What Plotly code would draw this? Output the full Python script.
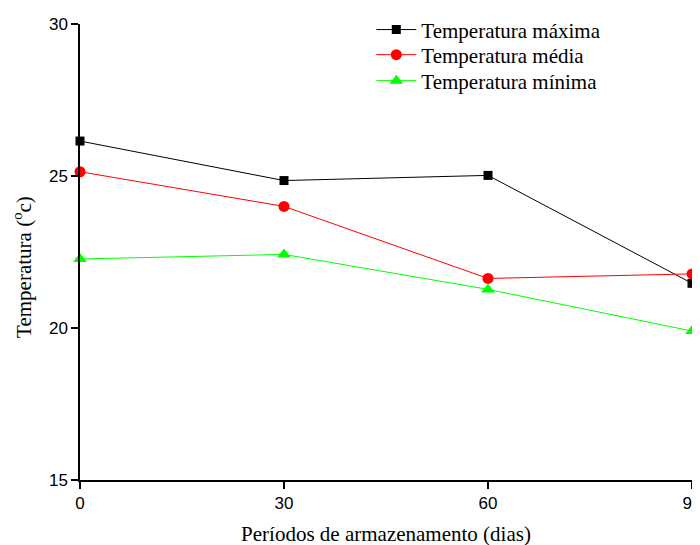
import plotly.graph_objects as go

dias = [0, 30, 60, 90]
temp_max = [26.15, 24.85, 25.02, 21.47]
temp_med = [25.14, 24.0, 21.63, 21.78]
temp_min = [22.27, 22.42, 21.27, 19.9]

x_ticks = [0, 30, 60, 90]
y_ticks = [15, 20, 25, 30]

fig = go.Figure()
fig.add_trace(go.Scatter(x=dias, y=temp_max, mode="lines+markers", name="Temperatura máxima",
                         legend="legend",
                         line=dict(color="black", width=1),
                         marker=dict(symbol="square", size=9, color="black")))
fig.add_trace(go.Scatter(x=dias, y=temp_med, mode="lines+markers", name="Temperatura média",
                         legend="legend2",
                         line=dict(color="#ff0000", width=1),
                         marker=dict(symbol="circle", size=11, color="#ff0000")))
fig.add_trace(go.Scatter(x=dias, y=temp_min, mode="lines+markers", name="Temperatura mínima",
                         legend="legend3",
                         line=dict(color="#00ff00", width=1),
                         marker=dict(symbol="triangle-up", size=12, color="#00ff00")))

fig.update_traces(cliponaxis=False)

leg_common = dict(xanchor="left", yanchor="middle",
                  font=dict(family="Liberation Serif", size=21, color="black"),
                  bgcolor="rgba(0,0,0,0)", itemwidth=40, borderwidth=0)

fig.update_layout(
    width=700, height=545,
    margin=dict(l=72, r=16, t=16, b=73, autoexpand=False),
    plot_bgcolor="white", paper_bgcolor="white",
    showlegend=True,
    legend=dict(x=0.476, y=0.987, **leg_common),
    legend2=dict(x=0.476, y=0.932, **leg_common),
    legend3=dict(x=0.476, y=0.875, **leg_common),
    xaxis=dict(range=[0, 90], tickvals=x_ticks, showline=True, linecolor="black", linewidth=1.5,
               ticks="outside", ticklen=7, tickwidth=1.5, tickcolor="black",
               showgrid=False, zeroline=False,
               tickfont=dict(family="Liberation Sans", size=17, color="black"),
               title=dict(text="Períodos de armazenamento (dias)",
                          font=dict(family="Liberation Serif", size=21, color="black"), standoff=14)),
    yaxis=dict(range=[15, 30], tickvals=y_ticks, showline=True, linecolor="black", linewidth=1.5,
               ticks="outside", ticklen=7, tickwidth=1.5, tickcolor="black",
               showgrid=False, zeroline=False,
               tickfont=dict(family="Liberation Sans", size=17, color="black")),
    annotations=[dict(text="Temperatura (<sup>o</sup>c)", textangle=-90,
                      xref="paper", yref="paper", x=-0.095, y=0.467,
                      xanchor="center", yanchor="middle", showarrow=False,
                      font=dict(family="Liberation Serif", size=21, color="black"))],
)

fig.write_html("out.html")
